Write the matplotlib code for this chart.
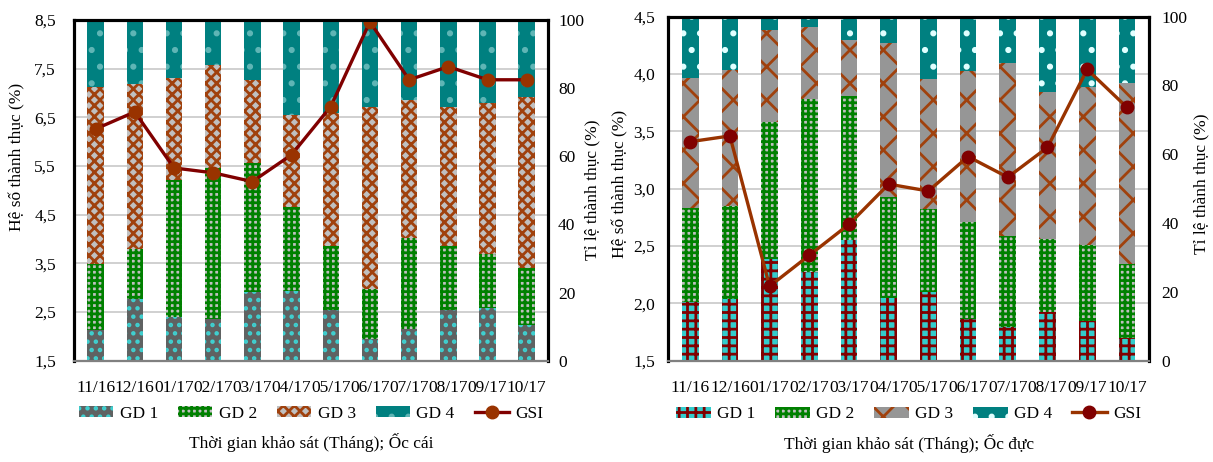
import matplotlib.pyplot as plt
import numpy as np

plt.rcParams['font.family'] = ['Liberation Serif', 'DejaVu Serif']
plt.rcParams['font.size'] = 12.5
plt.rcParams['hatch.linewidth'] = 2.0

months = ['11/16', '12/16', '01/17', '02/17', '03/17', '04/17',
          '05/17', '06/17', '07/17', '08/17', '09/17', '10/17']

# Ốc cái (female)
gsi_cai = [6.26, 6.61, 5.46, 5.36, 5.18, 5.73, 6.72, 8.46, 7.27, 7.54, 7.27, 7.27]
gd1_cai = [9.1, 18.2, 12.9, 12.3, 20.2, 20.5, 15.0, 6.5, 9.4, 15.0, 15.5, 10.6]
gd2_cai = [19.3, 14.6, 40.2, 44.3, 37.8, 24.7, 18.7, 14.5, 26.6, 18.7, 15.9, 16.7]
gd3_cai = [52.0, 48.4, 29.9, 30.2, 24.4, 26.9, 39.0, 53.5, 40.5, 40.8, 44.2, 50.1]
gd4_cai = [19.6, 18.8, 17.0, 13.2, 17.6, 27.9, 27.3, 25.5, 23.5, 25.5, 24.4, 22.6]

# Ốc đực (male)
gsi_duc = [3.41, 3.46, 2.15, 2.42, 2.69, 3.04, 2.98, 3.28, 3.10, 3.36, 4.04, 3.71]
gd1_duc = [17.2, 18.0, 29.7, 25.9, 35.2, 18.3, 20.0, 12.2, 9.9, 14.2, 11.6, 6.7]
gd2_duc = [27.3, 27.0, 39.8, 50.3, 41.8, 29.4, 24.2, 28.2, 26.4, 21.3, 22.1, 21.5]
gd3_duc = [37.8, 39.6, 26.7, 20.9, 16.3, 44.5, 37.8, 43.9, 50.3, 42.7, 46.0, 52.6]
gd4_duc = [17.7, 15.4, 3.8, 2.9, 6.7, 7.8, 18.0, 15.7, 13.4, 21.8, 20.3, 19.2]

stage_names = ['GD 1', 'GD 2', 'GD 3', 'GD 4']

style_cai = [dict(color='#5f6262', hatch='..', ec='#3fd0d0'),
             dict(color='#c0c0c0', hatch='+++', ec='#008000'),
             dict(color='#c0c0c0', hatch='xxx', ec='#a0410d'),
             dict(color='#008080', hatch='.', ec='#5fb5b5')]
style_duc = [dict(color='#33cccc', hatch='++', ec='#800000'),
             dict(color='#c0c0c0', hatch='+++', ec='#008000'),
             dict(color='#969696', hatch='x', ec='#a0410d'),
             dict(color='#008080', hatch='.', ec='#e0ffff')]


def fmt(v):
    return ('%.1f' % v).replace('.', ',')


def draw(rect, gsi, stages, styles, ylim, yticks, line_c, mark_c, xlabel,
         lpad, rpad, lpos, rpos):
    ax = fig.add_axes(rect)
    ax.set_ylim(*ylim)
    ax.set_yticks(yticks)
    ax.set_yticklabels([fmt(t) for t in yticks])
    ax.grid(axis='y', color='#c8c8c8', lw=1.2)
    ax.set_ylabel('Hệ số thành thục (%)')
    ax.yaxis.set_label_coords(*lpos)
    x = np.arange(len(months))
    ax.set_xlim(-0.55, len(months) - 0.45)
    ax.set_xticks(x)
    ax.set_xticklabels(months)
    ax.tick_params(axis='x', length=0, pad=14)
    ax.tick_params(axis='y', length=0, pad=lpad)

    ax2 = ax.twinx()
    ax2.set_ylim(0, 100)
    ax2.set_yticks(range(0, 101, 20))
    ax2.tick_params(axis='y', length=0, pad=rpad)
    ax2.set_ylabel('Tỉ lệ thành thục (%)')
    ax2.yaxis.set_label_coords(*rpos)
    bottom = np.zeros(len(months))
    handles = []
    for vals, st, name in zip(stages, styles, stage_names):
        b = ax2.bar(x, vals, 0.42, bottom=bottom, color=st['color'],
                    hatch=st['hatch'], edgecolor=st['ec'], lw=0, label=name)
        bottom += np.array(vals)
        handles.append(b)

    ax3 = ax.twinx()
    ax3.set_ylim(*ylim)
    ax3.set_yticks([])
    l, = ax3.plot(x, gsi, color=line_c, lw=2.4, marker='o', ms=9,
                  mfc=mark_c, mec=mark_c, label='GSI')
    handles.append(l)

    for a in (ax, ax2, ax3):
        for s in ('top', 'left', 'right'):
            a.spines[s].set_linewidth(2.2)
            a.spines[s].set_color('black')
        a.spines['bottom'].set_color('#808080')
        a.spines['bottom'].set_linewidth(1.5)

    ax.legend(handles, stage_names + ['GSI'], loc='center',
              bbox_to_anchor=(0.5, -0.155), ncol=5, frameon=False,
              handlelength=2.0, handleheight=0.6, handletextpad=0.35,
              columnspacing=1.15)
    ax.text(0.5, -0.24, xlabel, transform=ax.transAxes,
            ha='center', va='center')


fig = plt.figure(figsize=(12.13, 4.62), dpi=100)
draw([0.061, 0.219, 0.391, 0.738], gsi_cai,
     [gd1_cai, gd2_cai, gd3_cai, gd4_cai], style_cai,
     (1.5, 8.5), np.arange(1.5, 8.6, 1.0), '#800000', '#993300',
     'Thời gian khảo sát (Tháng); Ốc cái',
     13, 7, (-0.103, 0.598), (1.076, 0.501))
draw([0.551, 0.219, 0.396, 0.745], gsi_duc,
     [gd1_duc, gd2_duc, gd3_duc, gd4_duc], style_duc,
     (1.5, 4.5), np.arange(1.5, 4.6, 0.5), '#993300', '#800000',
     'Thời gian khảo sát (Tháng); Ốc đực',
     9.5, 9, (-0.083, 0.515), (1.092, 0.515))

fig.savefig('out.png', dpi=100)
